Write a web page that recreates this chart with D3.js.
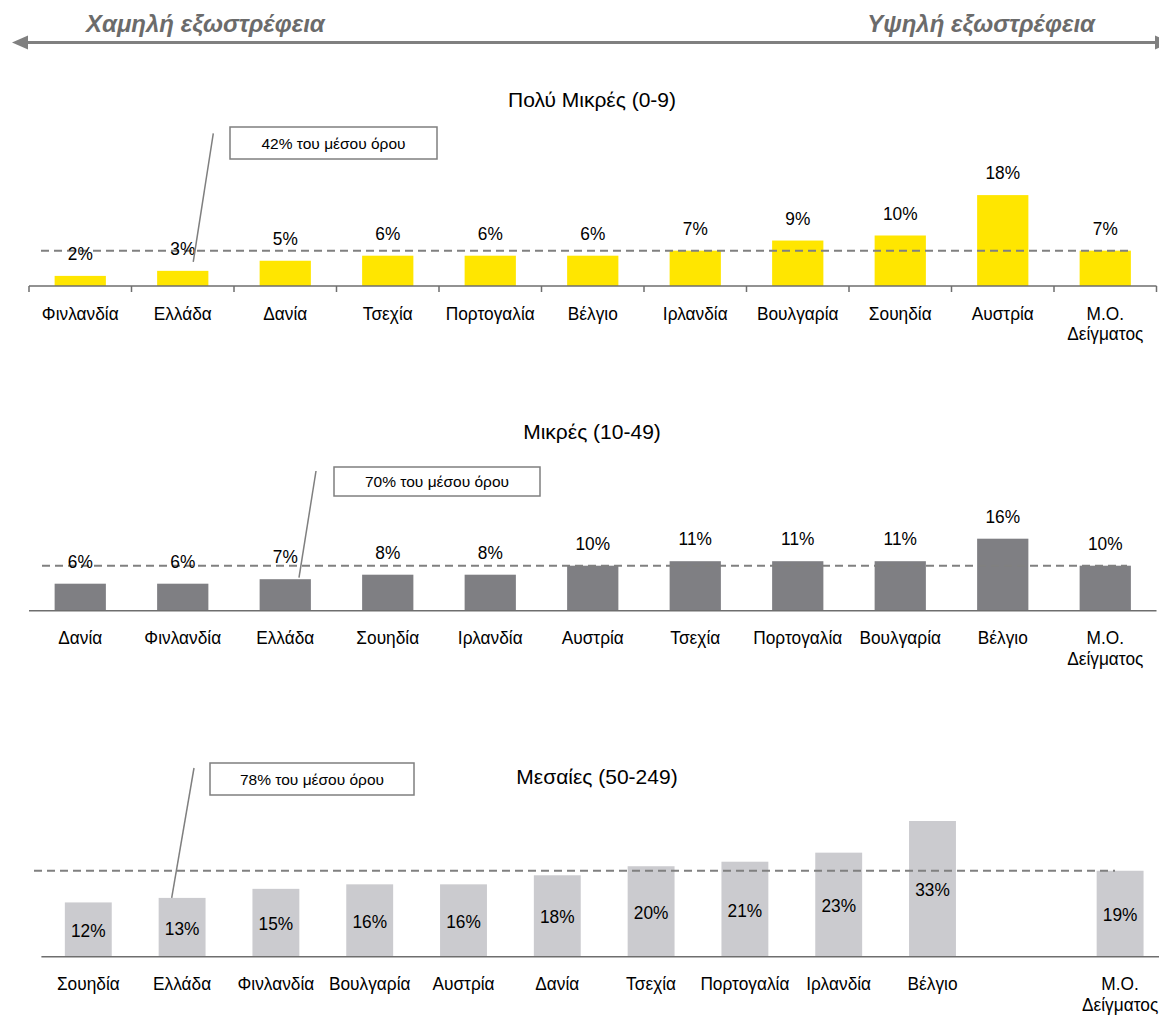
<!DOCTYPE html>
<html>
<head>
<meta charset="utf-8">
<script src="https://cdn.jsdelivr.net/npm/d3@7"></script>
<style>
  html, body { margin: 0; padding: 0; background: #ffffff; }
  svg { display: block; }
  text { font-family: "Liberation Sans", Arial, sans-serif; }
</style>
</head>
<body>
<svg id="chart" width="1159" height="1017"></svg>
<script>
// ---- Data ----
const avgLabel = "Μ.Ο. Δείγματος";

const microCategories = ["Φινλανδία", "Ελλάδα", "Δανία", "Τσεχία", "Πορτογαλία", "Βέλγιο", "Ιρλανδία", "Βουλγαρία", "Σουηδία", "Αυστρία", avgLabel];
const microValues = [2, 3, 5, 6, 6, 6, 7, 9, 10, 18, 7];

const smallCategories = ["Δανία", "Φινλανδία", "Ελλάδα", "Σουηδία", "Ιρλανδία", "Αυστρία", "Τσεχία", "Πορτογαλία", "Βουλγαρία", "Βέλγιο", avgLabel];
const smallValues = [6, 6, 7, 8, 8, 10, 11, 11, 11, 16, 10];

// the empty slot before the sample average is kept as a blank category
const mediumCategories = ["Σουηδία", "Ελλάδα", "Φινλανδία", "Βουλγαρία", "Αυστρία", "Δανία", "Τσεχία", "Πορτογαλία", "Ιρλανδία", "Βέλγιο", "", avgLabel];
const mediumValues = [12, 13, 15, 16, 16, 18, 20, 21, 23, 33, null, 19];

const panelTitles = ["Πολύ Μικρές (0-9)", "Μικρές (10-49)", "Μεσαίες (50-249)"];
const sampleAverages = [7, 10, 19];
const greeceShareOfAverage = ["42% του μέσου όρου", "70% του μέσου όρου", "78% του μέσου όρου"];
const headerLeft = "Χαμηλή εξωστρέφεια";
const headerRight = "Υψηλή εξωστρέφεια";

// ---- Layout ----
const svg = d3.select("#chart");
const LABEL_SIZE = 18.6;   // value and category labels
const LABEL_SQUEEZE = 0.93; // condensed look of the label face

const panels = [
  { categories: microCategories, values: microValues, title: panelTitles[0], avg: sampleAverages[0], note: greeceShareOfAverage[0],
    axisY: 286, x0: 29, step: 102.5, yMax: 20, yTop: 185, clamp: false,
    color: "#FFE600", ticks: true, labelMode: "above",
    titleX: 592, titleY: 107, avgLine: [41, 1130],
    box: [230, 127, 437, 159], leaderStart: [213.3, 133.3], leaderOffset: [10.5, -9] },
  { categories: smallCategories, values: smallValues, title: panelTitles[1], avg: sampleAverages[1], note: greeceShareOfAverage[1],
    axisY: 610.7, x0: 29, step: 102.5, yMax: 18, yTop: 529.7, clamp: false,
    color: "#7F7F83", ticks: false, labelMode: "above",
    titleX: 592, titleY: 439, avgLine: [42, 1127],
    box: [334, 467, 540, 496], leaderStart: [316, 471], leaderOffset: [13.75, -1.5] },
  { categories: mediumCategories, values: mediumValues, title: panelTitles[2], avg: sampleAverages[2], note: greeceShareOfAverage[2],
    axisY: 956.7, x0: 41.4, step: 93.8, yMax: 30, yTop: 821, clamp: true,
    color: "#CBCBCF", ticks: false, labelMode: "inside",
    titleX: 597, titleY: 784, avgLine: [34, 1115],
    box: [210, 763, 414, 795], leaderStart: [194, 768], leaderOffset: [-10.4, 0] }
];

// ---- Header arrow ----
const header = svg.append("g");
header.append("line")
  .attr("x1", 26).attr("x2", 1157).attr("y1", 42.5).attr("y2", 42.5)
  .attr("stroke", "#808080").attr("stroke-width", 3);
header.append("path").attr("d", "M12,42.5 L28,35.5 L28,49.5 Z").attr("fill", "#808080");
header.append("path").attr("d", "M1171,42.5 L1155,35.5 L1155,49.5 Z").attr("fill", "#808080");
header.append("text").attr("x", 86).attr("y", 32)
  .attr("font-size", 24).attr("font-weight", "bold").attr("font-style", "italic")
  .attr("fill", "#6B6B6B").text(headerLeft);
header.append("text").attr("x", 1095).attr("y", 32).attr("text-anchor", "end")
  .attr("font-size", 24).attr("font-weight", "bold").attr("font-style", "italic")
  .attr("fill", "#6B6B6B").text(headerRight);

// ---- Panels ----
panels.forEach(p => {
  const g = svg.append("g");
  const n = p.categories.length;

  const x = d3.scaleBand()
    .domain(d3.range(n))
    .range([p.x0, p.x0 + n * p.step])
    .paddingInner(0.5).paddingOuter(0.25);

  const y = d3.scaleLinear()
    .domain([0, p.yMax])
    .range([p.axisY, p.yTop])
    .clamp(p.clamp);

  const rows = p.categories.map((c, i) => ({ i, c, v: p.values[i] }));
  const barRows = rows.filter(d => d.v != null);
  const cx = d => x(d.i) + x.bandwidth() / 2;

  // title
  g.append("text")
    .attr("x", p.titleX).attr("y", p.titleY)
    .attr("text-anchor", "middle").attr("font-size", 21).attr("fill", "#000")
    .text(p.title);

  // bars
  g.selectAll("rect.bar").data(barRows).join("rect")
    .attr("class", "bar")
    .attr("x", d => x(d.i))
    .attr("width", x.bandwidth())
    .attr("y", d => y(d.v))
    .attr("height", d => y(0) - y(d.v))
    .attr("fill", p.color);

  // sample-average reference line
  g.append("line")
    .attr("x1", p.avgLine[0]).attr("x2", p.avgLine[1])
    .attr("y1", y(p.avg)).attr("y2", y(p.avg))
    .attr("stroke", "#808080").attr("stroke-width", 2)
    .attr("stroke-dasharray", "8,5");

  // value labels: above the bar, or centred inside it
  const fmt = v => d3.format("d")(v) + "%";
  const valueY = p.labelMode === "above"
    ? d => y(d.v) - 16
    : d => (y(d.v) + y(0)) / 2 + 7.5;
  g.selectAll("text.val").data(barRows).join("text")
    .attr("class", "val")
    .attr("transform", d => `translate(${cx(d)},${valueY(d)}) scale(${LABEL_SQUEEZE},1)`)
    .attr("text-anchor", "middle").attr("font-size", LABEL_SIZE).attr("fill", "#000")
    .text(d => fmt(d.v));

  // category axis
  const axisEnd = Math.min(p.x0 + n * p.step, 1160);
  g.append("line")
    .attr("x1", p.x0).attr("x2", axisEnd)
    .attr("y1", p.axisY).attr("y2", p.axisY)
    .attr("stroke", "#6E6E6E").attr("stroke-width", 1.5);
  if (p.ticks) {
    g.selectAll("line.tick").data(d3.range(n + 1)).join("line")
      .attr("class", "tick")
      .attr("x1", k => p.x0 + k * p.step).attr("x2", k => p.x0 + k * p.step)
      .attr("y1", p.axisY).attr("y2", p.axisY + 6)
      .attr("stroke", "#6E6E6E").attr("stroke-width", 1.5);
  }

  const cat = g.selectAll("text.cat").data(rows.filter(d => d.c)).join("text")
    .attr("class", "cat")
    .attr("text-anchor", "middle").attr("font-size", LABEL_SIZE).attr("fill", "#000")
    .attr("transform", d => `translate(${cx(d)},${p.axisY + 33.5}) scale(${LABEL_SQUEEZE},1)`);
  cat.each(function(d) {
    const words = d.c === avgLabel ? ["Μ.Ο.", "Δείγματος"] : [d.c];
    d3.select(this).selectAll("tspan").data(words).join("tspan")
      .attr("x", 0).attr("dy", (w, k) => k === 0 ? 0 : 21)
      .text(w => w);
  });

  // Greece annotation
  const gi = p.categories.indexOf("Ελλάδα");
  const anchorX = x(gi) + x.bandwidth() / 2 + p.leaderOffset[0];
  const anchorY = y(p.values[gi]) + p.leaderOffset[1];
  g.append("line")
    .attr("x1", p.leaderStart[0]).attr("y1", p.leaderStart[1])
    .attr("x2", anchorX).attr("y2", anchorY)
    .attr("stroke", "#7F7F7F").attr("stroke-width", 1.5);
  const [bx0, by0, bx1, by1] = p.box;
  g.append("rect")
    .attr("x", bx0).attr("y", by0).attr("width", bx1 - bx0).attr("height", by1 - by0)
    .attr("fill", "#fff").attr("stroke", "#7F7F7F").attr("stroke-width", 1.5);
  g.append("text")
    .attr("x", (bx0 + bx1) / 2).attr("y", (by0 + by1) / 2 + 5.5)
    .attr("text-anchor", "middle").attr("font-size", 15.5).attr("fill", "#000")
    .text(p.note);
});
</script>
</body>
</html>
